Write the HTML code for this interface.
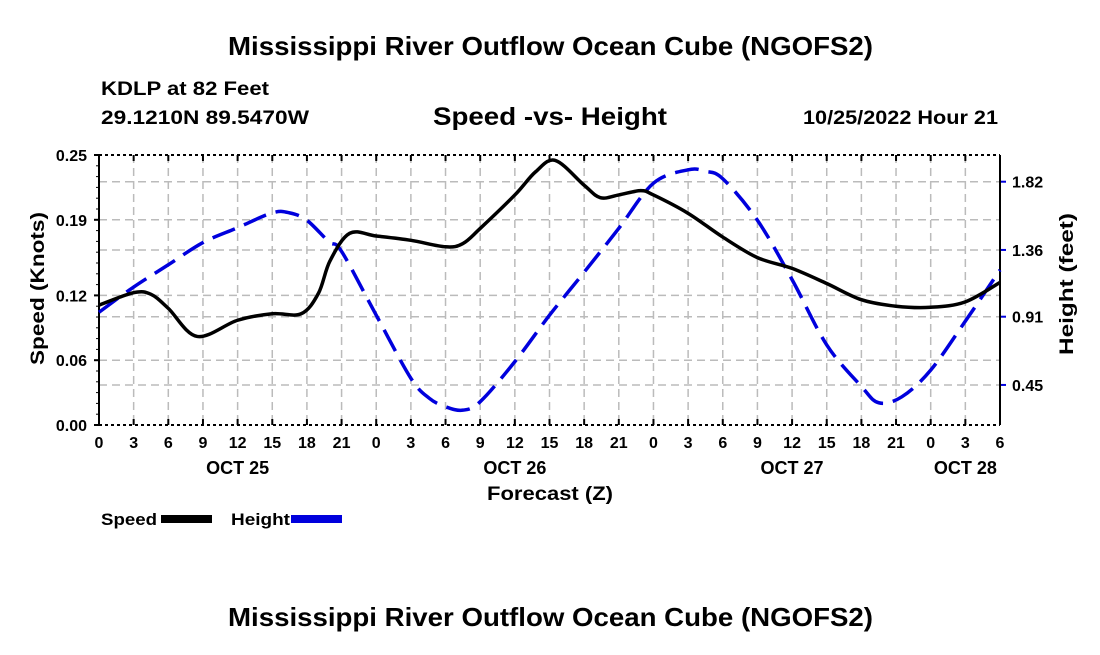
<!DOCTYPE html>
<html><head><meta charset="utf-8"><style>
body{margin:0;background:#fff;}
svg text{font-family:"Liberation Sans",sans-serif;font-weight:bold;fill:#000;}
</style></head><body>
<svg id="chart" width="1100" height="650" xmlns="http://www.w3.org/2000/svg">
<rect width="1100" height="650" fill="#fff"/>
<text x="228" y="55" font-size="26" textLength="645" lengthAdjust="spacingAndGlyphs">Mississippi River Outflow Ocean Cube (NGOFS2)</text>
<text x="101" y="95" font-size="19" textLength="168" lengthAdjust="spacingAndGlyphs">KDLP at 82 Feet</text>
<text x="101" y="124" font-size="19" textLength="208" lengthAdjust="spacingAndGlyphs">29.1210N  89.5470W</text>
<text x="433" y="125" font-size="25" textLength="234" lengthAdjust="spacingAndGlyphs">Speed -vs- Height</text>
<text x="803" y="124" font-size="19" textLength="195" lengthAdjust="spacingAndGlyphs">10/25/2022 Hour 21</text>
<g id="grid"></g>
<g id="axes"></g>
<g id="series"></g>
<text x="487" y="500" font-size="19" textLength="126" lengthAdjust="spacingAndGlyphs">Forecast (Z)</text>
<text transform="translate(44,365) rotate(-90)" font-size="19" textLength="153" lengthAdjust="spacingAndGlyphs">Speed (Knots)</text>
<text transform="translate(1073,355) rotate(-90)" font-size="19" textLength="142" lengthAdjust="spacingAndGlyphs">Height (feet)</text>
<g>
<text x="101" y="525" font-size="17" textLength="56" lengthAdjust="spacingAndGlyphs">Speed</text>
<rect x="161" y="515" width="51" height="8" fill="#000"/>
<text x="231" y="525" font-size="17" textLength="59" lengthAdjust="spacingAndGlyphs">Height</text>
<rect x="291" y="515" width="51" height="8" fill="#0000dd"/>
</g>
<text x="228" y="626" font-size="26" textLength="645" lengthAdjust="spacingAndGlyphs">Mississippi River Outflow Ocean Cube (NGOFS2)</text>
</svg>
<script>
const hourTicks=[0,3,6,9,12,15,18,21,0,3,6,9,12,15,18,21,0,3,6,9,12,15,18,21,0,3,6];
const dayLabels=["OCT 25","OCT 26","OCT 27","OCT 28"];
const dayLabelHours=[12,36,60,75];
const speedTicks=[0.00,0.06,0.12,0.19,0.25];
const heightTicks=[0.45,0.91,1.36,1.82];
const speedHours=[0,3,4.5,6,8.5,12,15,17.5,19,20,21.7,24,27,30,31.5,33,36,37.8,39.5,42,43.4,45,46.9,48,51,54,57,60,63,66,69,72,75,78];
const speedValues=[0.111,0.1225,0.121,0.108,0.082,0.097,0.103,0.103,0.122,0.152,0.1775,0.175,0.171,0.165,0.168,0.182,0.213,0.2345,0.245,0.222,0.2105,0.213,0.217,0.213,0.196,0.174,0.155,0.145,0.131,0.116,0.110,0.109,0.114,0.132];
const heightHours=[0,3,6,9,12,15,16.5,18,19.9,21,24,27,28.6,30,31.5,33,36,39,42,45,48,51,52.5,54,57,60,63,66,67.5,69.5,72,75,78];
const heightValues=[0.94,1.11,1.26,1.41,1.51,1.61,1.61,1.56,1.415,1.35,0.92,0.495,0.36,0.303,0.28,0.337,0.607,0.92,1.21,1.506,1.81,1.90,1.89,1.84,1.56,1.16,0.72,0.44,0.33,0.37,0.55,0.88,1.225];
const NS="http://www.w3.org/2000/svg";
const L=99,R=1000,T=155,B=425;
const xS=h=>L+h/78*(R-L);
const yS=v=>B-v/0.25*(B-T);
const yH=v=>B-(v-0.18)/1.82*(B-T);
function mk(tag,attrs,parent){const e=document.createElementNS(NS,tag);for(const k in attrs)e.setAttribute(k,attrs[k]);parent.appendChild(e);return e;}
const grid=document.getElementById('grid'),axes=document.getElementById('axes'),series=document.getElementById('series');
hourTicks.forEach((h,i)=>{const x=xS(i*3);
 if(i>0&&i<hourTicks.length-1){const g=mk('line',{x1:x,x2:x,y1:T,y2:B,stroke:'#bbb','stroke-width':1.5,'stroke-dasharray':'8,5'},grid);
 
 }
 const t=mk('line',{x1:x,x2:x,y1:B,y2:B-6,stroke:'#000','stroke-width':2},axes);
 
 
 const t2=mk('line',{x1:x,x2:x,y1:T,y2:T+6,stroke:'#000','stroke-width':2},axes);
 
 
 const lb=mk('text',{x:x,y:448,'font-size':16,'text-anchor':'middle'},axes);lb.textContent=h;
 
 
});
dayLabels.forEach((d,i)=>{const lb=mk('text',{x:xS(dayLabelHours[i]),y:474,'font-size':18,'text-anchor':'middle'},axes);lb.textContent=d;
 
 });
speedTicks.forEach(v=>{const y=yS(v);
 if(v>0&&v<0.25){const g=mk('line',{x1:L,x2:R,y1:y,y2:y,stroke:'#bbb','stroke-width':1.5,'stroke-dasharray':'8,5'},grid);
 
 }
 const t=mk('line',{x1:L-5,x2:L,y1:y,y2:y,stroke:'#000','stroke-width':2},axes);
 
 
 const lb=mk('text',{x:L-12,y:y+6,'font-size':16,'text-anchor':'end'},axes);lb.textContent=v.toFixed(2);
 
 });
for(let k=1;k<25;k++){const y=B-k*(B-T)/25;const m=mk('line',{x1:L-3,x2:L,y1:y,y2:y,stroke:'#000','stroke-width':1},axes);
 
 }
heightTicks.forEach(v=>{const y=yH(v);
 const g=mk('line',{x1:L,x2:R,y1:y,y2:y,stroke:'#bbb','stroke-width':1.5,'stroke-dasharray':'8,5'},grid);
 
 
 const t=mk('line',{x1:R,x2:R+6,y1:y,y2:y,stroke:'#0000dd','stroke-width':2},axes);
 
 
 const lb=mk('text',{x:R+12,y:y+6,'font-size':16},axes);lb.textContent=v.toFixed(2);
 
 });
[[L,T,L,B,'none','y-axis-left'],[R,T,R,B,'none','y-axis-right'],[L,B,R,B,'3,3','x-axis-bottom'],[L,T,R,T,'3,3','x-axis-top']].forEach(a=>{
 const l=mk('line',{x1:a[0],y1:a[1],x2:a[2],y2:a[3],stroke:'#000','stroke-width':2,'stroke-dasharray':a[4]},axes);
 
 });
function smooth(pts){let d='M'+pts[0][0]+','+pts[0][1];
 for(let i=0;i<pts.length-1;i++){const p0=pts[Math.max(0,i-1)],p1=pts[i],p2=pts[i+1],p3=pts[Math.min(pts.length-1,i+2)];
 d+=' C'+(p1[0]+(p2[0]-p0[0])/6)+','+(p1[1]+(p2[1]-p0[1])/6)+' '+(p2[0]-(p3[0]-p1[0])/6)+','+(p2[1]-(p3[1]-p1[1])/6)+' '+p2[0]+','+p2[1];}
 return d;}
const hp=mk('path',{d:smooth(heightHours.map((h,i)=>[xS(h),yH(heightValues[i])])),fill:'none',stroke:'#0000dd','stroke-width':3.5,'stroke-dasharray':'24,10'},series);


const sp=mk('path',{d:smooth(speedHours.map((h,i)=>[xS(h),yS(speedValues[i])])),fill:'none',stroke:'#000','stroke-width':3.5},series);


</script>
</body></html>
